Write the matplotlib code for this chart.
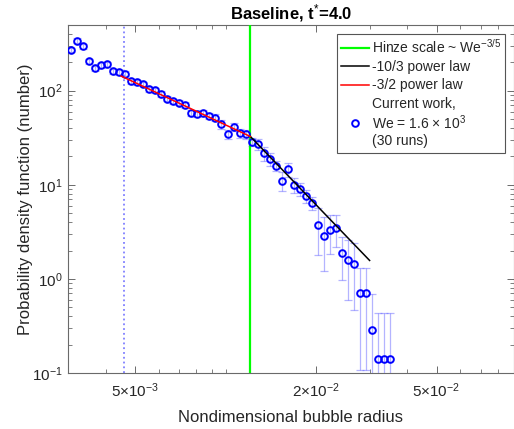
import matplotlib
matplotlib.use("Agg")
import matplotlib.pyplot as plt
from matplotlib.ticker import FixedLocator, NullFormatter, LogLocator, FixedFormatter

plt.rcParams['font.family'] = ['Liberation Sans', 'DejaVu Sans']
plt.rcParams['mathtext.fontset'] = 'custom'
plt.rcParams['mathtext.rm'] = 'Liberation Sans'
plt.rcParams['mathtext.it'] = 'Liberation Sans:italic'
plt.rcParams['mathtext.bf'] = 'Liberation Sans:bold'

# ---- data ----
radius = [3.062e-3, 3.206e-3, 3.357e-3, 3.516e-3, 3.681e-3, 3.855e-3, 4.036e-3, 4.227e-3, 4.426e-3, 4.634e-3,
          4.853e-3, 5.082e-3, 5.321e-3, 5.572e-3, 5.834e-3, 6.109e-3, 6.397e-3, 6.699e-3, 7.015e-3, 7.345e-3,
          7.691e-3, 8.054e-3, 8.433e-3, 8.831e-3, 9.247e-3, 9.683e-3, 1.014e-2, 1.062e-2, 1.112e-2, 1.164e-2,
          1.219e-2, 1.276e-2, 1.337e-2, 1.400e-2, 1.466e-2, 1.535e-2, 1.607e-2, 1.683e-2, 1.762e-2, 1.845e-2,
          1.932e-2, 2.023e-2, 2.118e-2, 2.218e-2, 2.323e-2, 2.432e-2, 2.547e-2, 2.667e-2, 2.793e-2, 2.924e-2,
          3.062e-2, 3.206e-2, 3.357e-2, 3.516e-2]
pdf = [270.7, 339.7, 294.9, 205.3, 173, 186.6, 189.8, 160.6, 156.8, 151.6,
       126.2, 123.1, 117.8, 103, 101.2, 92.7, 82.4, 77.2, 74.6, 69.9,
       58.4, 56.5, 57.9, 54.1, 51.8, 44.1, 34.5, 41.1, 35.3, 34.5,
       28.6, 26.9, 21.6, 18.7, 15.8, 11.06, 14.6, 9.88, 9.03, 7.6,
       6.45, 3.71, 2.88, 3.29, 3.47, 1.87, 1.60, 1.43, 0.713, 0.713,
       0.284, 0.141, 0.141, 0.141]
pdf_err = [16, 20, 18, 12, 10, 11, 11, 9, 9, 9,
           7.5, 7.5, 7, 6.5, 6.5, 6, 5.5, 5, 5, 5,
           4.5, 4.5, 4.5, 4.5, 4.5, 4.5, 3.8, 4, 3.8, 3.8,
           3, 3.5, 3.5, 3, 1.9, 2.5, 2.6, 1.8, 1.45, 1.2,
           1.0, 1.9, 1.68, 1.45, 1.3, 0.9, 1.0, 0.96, 0.605, 0.605,
           0.4, 0.29, 0.29, 0.29]

hinze_x = 1.207e-2
resolution_x = 4.60e-3
law32_x = [4.5e-3, 1.207e-2]
law32_y = [143.0, 32.6]
law103_x = [1.207e-2, 3.0e-2]
law103_y = [32.6, 1.57]

xticks_major = [5e-3, 2e-2, 5e-2]
xtick_labels = [r'$\mathdefault{5{\times}10^{-3}}$', r'$\mathdefault{2{\times}10^{-2}}$',
                r'$\mathdefault{5{\times}10^{-2}}$']
xticks_minor = [3e-3, 4e-3, 6e-3, 7e-3, 8e-3, 9e-3, 1e-2, 3e-2, 4e-2, 6e-2, 7e-2, 8e-2, 9e-2]

W, H = 514, 429
fig = plt.figure(figsize=(W / 100, H / 100), dpi=100)
ax = fig.add_axes([68 / W, 1 - 373 / H, (513.5 - 68) / W, (373 - 24.9) / H])
ax.set_xscale('log')
ax.set_yscale('log')

txt = '#262626'
spine_c = '#6a6a6a'

ax.axvline(resolution_x, color='#7f7fff', ls=':', lw=1.3, zorder=2)
hz = ax.axvline(hinze_x, color='#00ff00', lw=1.6, zorder=4, label=r'Hinze scale ~ We$^{-3/5}$')

ax.errorbar(radius, pdf, yerr=pdf_err, fmt='none', ecolor=(0.35, 0.35, 1.0), alpha=0.45,
            elinewidth=0.9, capsize=2.8, capthick=0.9, zorder=3)
pts, = ax.plot(radius, pdf, 'o', ms=4.8, mfc='none', mec='#0000ff', mew=1.4, zorder=5,
               label='Current work,\nWe = 1.6 $\\times$ 10$^3$\n(30 runs)')
l103, = ax.plot(law103_x, law103_y, color='black', lw=1.1, zorder=6, label='-10/3 power law')
l32, = ax.plot(law32_x, law32_y, color='#ff0000', lw=1.1, zorder=6, label='-3/2 power law')

ax.set_xlim(3e-3, 9e-2)
ax.set_ylim(0.1, 500)

ax.xaxis.set_major_locator(FixedLocator(xticks_major))
ax.xaxis.set_major_formatter(FixedFormatter(xtick_labels))
ax.xaxis.set_minor_locator(FixedLocator(xticks_minor))
ax.xaxis.set_minor_formatter(NullFormatter())
ax.yaxis.set_major_locator(LogLocator(base=10, numticks=10))
ax.yaxis.set_minor_locator(LogLocator(base=10, subs=range(2, 10), numticks=10))
ax.yaxis.set_minor_formatter(NullFormatter())

ax.tick_params(which='both', direction='in', top=True, right=True, colors=spine_c,
               labelcolor=txt, labelsize=11)
ax.tick_params(which='major', length=5, width=0.7)
ax.tick_params(which='minor', length=3, width=0.6)
ax.tick_params(axis='y', pad=4)
ax.tick_params(axis='x', pad=6)
for s in ax.spines.values():
    s.set_color(spine_c)
    s.set_linewidth(0.8)

ax.set_xlabel('Nondimensional bubble radius', fontsize=12, color=txt, labelpad=7)
ax.set_ylabel('Probability density function (number)', fontsize=12, color=txt, labelpad=-1)
ax.set_title(r'Baseline, t$^{*}$=4.0', fontsize=12, fontweight='bold', color='black', pad=4)

leg = ax.legend(handles=[hz, l103, l32, pts], loc='upper right',
                bbox_to_anchor=(505 / W, 1 - 34 / H), bbox_transform=fig.transFigure,
                fontsize=10, frameon=True, fancybox=False, framealpha=1,
                edgecolor='#555555', handlelength=2.0, handletextpad=0.2,
                labelspacing=0.3, borderpad=0.3, borderaxespad=0)
leg.get_frame().set_linewidth(0.8)
for t in leg.get_texts():
    t.set_color(txt)
    t.set_multialignment('left')

fig.savefig('out.png', dpi=100)
